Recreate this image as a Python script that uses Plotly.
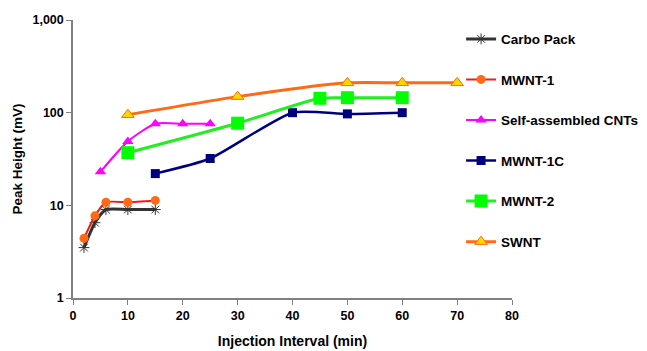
import plotly.graph_objects as go

x_carbo = [2, 4, 6, 10, 15]
y_carbo = [3.5, 6.5, 9, 9, 9]

x_mwnt1 = [2, 4, 6, 10, 15]
y_mwnt1 = [4.4, 7.7, 10.8, 10.8, 11.3]

x_self = [5, 10, 15, 20, 25]
y_self = [23, 49, 76, 76, 76]

x_mwnt1c = [15, 25, 40, 50, 60]
y_mwnt1c = [22, 32, 100, 97, 100]

x_mwnt2 = [10, 30, 45, 50, 60]
y_mwnt2 = [37, 77, 143, 145, 145]

x_swnt = [10, 30, 50, 60, 70]
y_swnt = [95, 149, 210, 210, 210]

y_tickvals = [1, 10, 100, 1000]
y_ticktext = ["<b>1</b>", "<b>10</b>", "<b>100</b>", "<b>1,000</b>"]
x_tickvals = [0, 10, 20, 30, 40, 50, 60, 70, 80]
x_ticktext = ["<b>%d</b>" % v for v in x_tickvals]

FONT = "Liberation Sans, Arial, sans-serif"

fig = go.Figure()

def add(name, x, y, lcolor, lwidth, msym, msize, mcolor, mline_color, mline_width, group):
    fig.add_trace(go.Scatter(
        x=x, y=y, name="<b>%s</b>" % name, mode="lines+markers",
        line=dict(color=lcolor, width=lwidth, shape="spline", smoothing=0.6),
        marker=dict(symbol=msym, size=msize, color=mcolor,
                    line=dict(color=mline_color, width=mline_width)),
        legendgroup=group,
    ))

add("Carbo Pack", x_carbo, y_carbo, "#333333", 3, "asterisk-open", 9, "#333333", "#333333", 1, "a")
add("MWNT-1", x_mwnt1, y_mwnt1, "#E8201A", 2, "circle", 9, "#FF6A13", "#FF6A13", 0, "b")
add("Self-assembled CNTs", x_self, y_self, "#FF00FF", 2, "triangle-up", 10, "#FF00FF", "#FF00FF", 0, "c")
add("MWNT-1C", x_mwnt1c, y_mwnt1c, "#000080", 2.5, "square", 9, "#000080", "#000080", 0, "d")
add("MWNT-2", x_mwnt2, y_mwnt2, "#22EE22", 3, "square", 13, "#00FF00", "#00FF00", 0, "e")
add("SWNT", x_swnt, y_swnt, "#FF6A13", 3, "triangle-up", 11, "#FFD700", "#FF6A13", 1, "f")

fig.update_layout(
    width=639, height=343,
    margin=dict(l=65, r=135, t=12, b=53, autoexpand=False),
    paper_bgcolor="white", plot_bgcolor="white",
    font=dict(family=FONT, size=12, color="black"),
    showlegend=True,
    legend=dict(x=0.884, y=0.987, xanchor="left", yanchor="top",
                tracegroupgap=20, font=dict(size=13.5, family=FONT),
                bgcolor="rgba(0,0,0,0)", itemwidth=30, maxheight=1),
    xaxis=dict(range=[0, 80], tickvals=x_tickvals, ticktext=x_ticktext,
               showgrid=False, zeroline=False, automargin=False,
               showline=True, linecolor="#808080", linewidth=1.5,
               ticks="outside", ticklen=5, tickcolor="#808080",
               tickfont=dict(size=12.5, family=FONT),
               title=dict(text="<b>Injection Interval (min)</b>", font=dict(size=14, family=FONT), standoff=14)),
    yaxis=dict(type="log", range=[0, 3], tickvals=y_tickvals, ticktext=y_ticktext,
               showgrid=False, zeroline=False, automargin=False,
               showline=True, linecolor="#808080", linewidth=1.5,
               ticks="outside", ticklen=5, tickcolor="#808080",
               tickfont=dict(size=12.5, family=FONT),
               title=dict(text="<b>Peak Height (mV)</b>", font=dict(size=13.5, family=FONT), standoff=7)),
)

fig.write_html("out.html")
